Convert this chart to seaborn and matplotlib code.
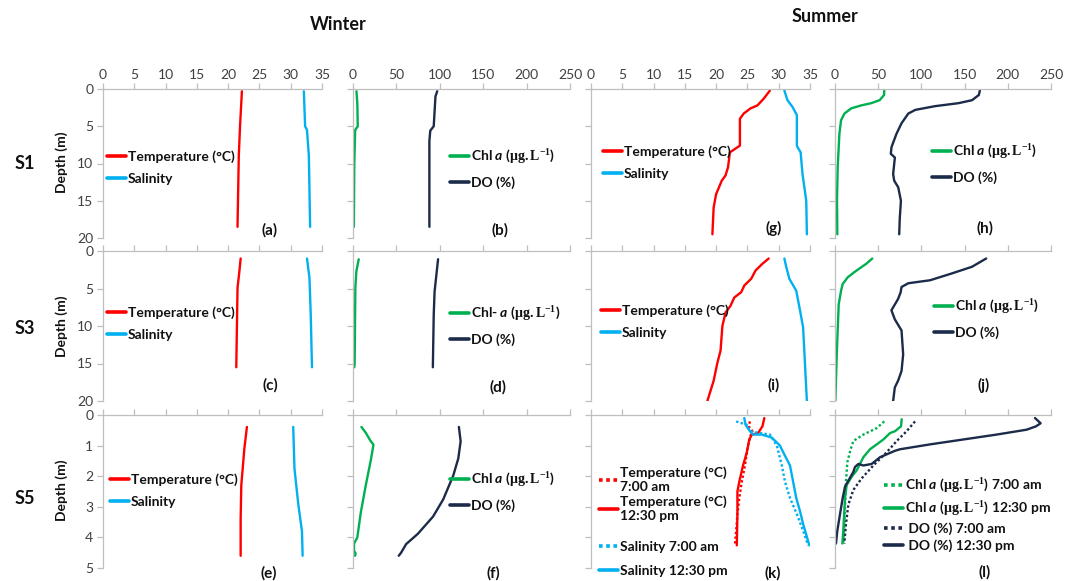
import matplotlib
matplotlib.use('Agg')
import matplotlib.pyplot as plt
import seaborn as sns

# ---- Winter S1 (a, b)
w1_temp_d = [0.3, 5, 9, 18.5]
w1_temp = [22.2, 21.9, 21.7, 21.5]
w1_sal_d = [0.3, 5, 5.5, 9, 18.5]
w1_sal = [32.1, 32.3, 32.6, 32.9, 33.1]
w1_chl_d = [0.3, 2, 5, 5.5, 10, 18.5]
w1_chl = [4, 5, 5.5, 2.5, 1.5, 1]
w1_do_d = [0.3, 1, 5, 5.6, 7, 18.5]
w1_do = [97, 95, 93, 89, 88, 88]

# ---- Summer S1 (g, h)
s1_temp_d = [0.2, 1.3, 2.2, 2.6, 3.3, 4.0, 7.6, 8.5, 10.5, 11.6, 12.3, 14.1, 15.9, 19.5]
s1_temp = [28.6, 27.6, 26.6, 25.5, 24.4, 23.8, 23.8, 22.2, 21.9, 21.5, 20.9, 20.0, 19.6, 19.4]
s1_sal_d = [0.2, 1.5, 2.4, 3.5, 7.6, 7.8, 8.5, 11.4, 15.0, 19.5]
s1_sal = [30.9, 31.4, 32.2, 32.9, 32.9, 33.0, 33.5, 33.8, 34.4, 34.5]
s1_chl_d = [0.2, 0.8, 1.5, 1.9, 2.2, 2.6, 3.3, 4.2, 6.0, 10.5, 15.0, 19.5]
s1_chl = [57, 56.8, 51.7, 42, 30.4, 18.7, 10.9, 7.0, 5.1, 3.1, 2.3, 2.7]
s1_do_d = [0.2, 0.8, 1.5, 1.9, 2.3, 2.8, 3.3, 4.6, 6.0, 7.8, 8.7, 9.2, 11.4, 12.3, 13.2, 15.0, 17.3, 19.5]
s1_do = [167.7, 166.5, 158.7, 143, 116, 93, 84.8, 77, 71.2, 65.4, 64.6, 69.3, 67.3, 68.5, 73.2, 76.3, 75, 74.3]

# ---- Winter S3 (c, d)
w3_temp_d = [1.0, 2.7, 4.9, 15.5]
w3_temp = [22.0, 21.8, 21.5, 21.3]
w3_sal_d = [1.0, 3.6, 8.5, 15.5]
w3_sal = [32.6, 33.0, 33.2, 33.4]
w3_chl_d = [1.1, 2.7, 4.9, 15.0, 15.5]
w3_chl = [6.6, 3.9, 2.7, 1.9, 1.5]
w3_do_d = [1.1, 5.4, 8.5, 15.5]
w3_do = [98, 94, 93, 92]

# ---- Summer S3 (i, j)
s3_temp_d = [1.0, 1.7, 2.6, 3.7, 4.6, 5.5, 6.2, 7.3, 8.2, 10.0, 13.3, 14.9, 17.3, 20.0]
s3_temp = [28.4, 27.4, 26.3, 25.6, 24.5, 24.0, 22.9, 22.3, 21.5, 21.0, 20.7, 20.2, 19.6, 18.6]
s3_sal_d = [1.0, 2.1, 3.7, 5.3, 7.9, 10.2, 15.1, 20.0]
s3_sal = [30.9, 31.2, 31.7, 32.8, 33.4, 33.9, 34.2, 34.5]
s3_chl_d = [1.0, 1.7, 2.8, 3.5, 4.4, 5.3, 7.1, 12.9, 20.0]
s3_chl = [43.2, 36.2, 22.6, 14.8, 8.9, 7.0, 4.3, 2.3, 0.4]
s3_do_d = [1.0, 2.1, 3.0, 3.9, 4.3, 4.8, 5.5, 6.4, 7.9, 9.1, 10.6, 13.8, 16.0, 17.3, 18.2, 20.0]
s3_do = [175, 158.6, 135, 110, 84.8, 77, 76, 73, 65.3, 69.2, 77, 78.9, 77, 73, 69.2, 67.3]

# ---- Winter S5 (e, f)
w5_temp_d = [0.39, 1.08, 2.3, 3.4, 4.6]
w5_temp = [23.0, 22.6, 22.1, 22.0, 22.0]
w5_sal_d = [0.39, 1.75, 2.9, 3.8, 4.6]
w5_sal = [30.4, 30.6, 31.2, 31.8, 31.9]
w5_chl_d = [0.39, 0.58, 0.86, 0.97, 1.48, 2.3, 3.2, 4.0, 4.2, 4.44, 4.53, 4.6]
w5_chl = [9.7, 14.7, 20.5, 23.6, 20.5, 14.7, 8.9, 5.0, 1.2, 1.2, 3.1, 2.3]
w5_do_d = [0.39, 0.86, 1.42, 1.98, 2.76, 3.32, 3.88, 4.22, 4.5, 4.6]
w5_do = [122, 124, 121.3, 115.5, 103.9, 92.2, 74.8, 61.2, 55.4, 52.7]

# ---- Summer S5 (k, l), two sampling times
s5_temp_am_d = [0.21, 0.37, 0.53, 0.67, 1.0, 1.65, 2.18, 2.71, 3.24, 3.78, 4.26]
s5_temp_am = [25.4, 25.2, 25.8, 25.5, 25.1, 24.6, 24.1, 23.7, 23.4, 23.2, 23.0]
s5_temp_pm_d = [0.1, 0.37, 0.59, 0.64, 0.8, 1.22, 1.65, 2.18, 2.5, 3.24, 4.26]
s5_temp_pm = [27.7, 27.4, 26.7, 25.7, 25.3, 24.9, 24.3, 23.7, 23.4, 23.4, 23.3]
s5_sal_am_d = [0.21, 0.27, 0.32, 0.53, 0.59, 0.64, 1.0, 1.65, 2.18, 2.71, 3.24, 3.78, 4.26]
s5_sal_am = [23.2, 24.1, 24.9, 25.4, 27.0, 28.6, 29.7, 30.5, 31.0, 31.8, 32.9, 33.9, 34.7]
s5_sal_pm_d = [0.1, 0.32, 0.53, 0.64, 0.64, 0.74, 1.0, 1.33, 1.65, 2.07, 2.71, 3.14, 3.56, 4.26]
s5_sal_pm = [24.5, 24.7, 25.4, 25.9, 27.3, 28.9, 30.2, 31.0, 31.8, 32.2, 32.8, 33.4, 33.9, 34.9]
s5_chl_am_d = [0.21, 0.43, 0.64, 0.85, 1.12, 1.54, 2.18, 3.03, 3.78, 4.2]
s5_chl_am = [57, 48.2, 32.8, 21.2, 18.1, 14.3, 12.7, 11.6, 10.4, 9.6]
s5_chl_pm_d = [0.14, 0.37, 0.53, 0.59, 0.8, 1.12, 1.38, 1.81, 2.02, 2.29, 2.71, 3.78, 4.2]
s5_chl_pm = [77.2, 76.4, 69.4, 63.7, 56, 40.5, 32.8, 25.1, 19.3, 13.5, 11.6, 9.6, 8.5]
s5_do_am_d = [0.21, 0.53, 0.85, 1.22, 1.65, 2.07, 2.45, 2.93, 3.56, 4.2]
s5_do_am = [92.6, 82.9, 71.4, 59.8, 44.4, 30.9, 21.2, 15.4, 12.7, 10.8]
s5_do_pm_d = [0.1, 0.27, 0.37, 0.48, 0.64, 0.8, 0.96, 1.12, 1.17, 1.38, 1.6, 1.65, 1.6, 1.7, 1.86, 2.34, 2.71, 3.24, 3.78, 4.2]
s5_do_pm = [231.5, 238, 232.7, 221.8, 187, 148.5, 110, 75.2, 69.4, 52.1, 42.4, 32.8, 27, 23.1, 21.2, 11.6, 8.9, 5.8, 2.7, 1.2]

RED = '#FF0000'
BLUE = '#00B0F0'
GREEN = '#00B050'
NAVY = '#1C2B4A'
GREY = '#BFBFBF'
DOT = (0, (1, 1))

CHL = r'Chl $\mathit{a}$ ($\mathbf{µg.L^{-1}}$)'

sns.set_theme(style='white')
plt.rcParams['font.family'] = ['Lato', 'DejaVu Sans']
plt.rcParams['mathtext.fontset'] = 'custom'
plt.rcParams['mathtext.rm'] = 'Liberation Serif'
plt.rcParams['mathtext.bf'] = 'Liberation Serif:bold'
plt.rcParams['mathtext.it'] = 'Lato:italic:bold'

W, H = 1065, 581
fig = plt.figure(figsize=(W / 100, H / 100), dpi=100)

col_px = [(103, 322), (353, 570), (591, 810), (835, 1051)]
row_px = [(89, 238), (251, 401), (415, 568)]
xmax = [35, 250, 35, 250]
depth_max = [20, 20, 5]


def make_ax(r, c):
    x0, x1 = col_px[c]
    y0, y1 = row_px[r]
    ax = fig.add_axes([x0 / W, 1 - y1 / H, (x1 - x0) / W, (y1 - y0) / H])
    return ax


def style_ax(ax, r, c):
    ax.set_xlim(0, xmax[c])
    ax.set_ylim(depth_max[r], 0)
    if xmax[c] == 35:
        ax.set_xticks(range(0, 36, 5))
    else:
        ax.set_xticks(range(0, 251, 50))
    ax.set_yticks(range(0, depth_max[r] + 1, 5 if depth_max[r] == 20 else 1))
    ax.xaxis.tick_top()
    for s in ['right', 'bottom']:
        ax.spines[s].set_visible(False)
    for s in ['top', 'left']:
        ax.spines[s].set_color(GREY)
        ax.spines[s].set_linewidth(0.9)
    ax.tick_params(axis='x', top=True, bottom=False, labeltop=(r == 0), labelbottom=False,
                   direction='out', length=4, width=0.9, color=GREY, labelsize=10,
                   labelcolor='#404040', pad=2)
    ax.tick_params(axis='y', left=True, labelleft=(c == 0), direction='out', length=4,
                   width=0.9, color=GREY, labelsize=10, labelcolor='#404040', pad=3)
    ax.set_xlabel('')
    ax.set_ylabel('')
    ax.grid(False)


def draw(ax, vals, depth, color, label, ls='-'):
    sns.lineplot(x=vals, y=depth, sort=False, estimator=None, color=color, lw=1.7,
                 linestyle=ls, label=label, legend=False, ax=ax)


def add_legend(ax, x, yc, handles=None, spacing=0.7):
    leg = ax.legend(handles=handles, loc='center left', bbox_to_anchor=(x / W, 1 - yc / H),
                    bbox_transform=fig.transFigure, frameon=False, handlelength=1.4,
                    handletextpad=0.1, borderpad=0, borderaxespad=0, labelspacing=spacing,
                    prop=dict(family='Lato', weight='bold', size=10))
    for h in leg.get_lines():
        h.set_linewidth(2.6)
    for t in leg.get_texts():
        t.set_color('#111111')
    return leg


panels = {}
for r in range(3):
    for c in range(4):
        panels[(r, c)] = make_ax(r, c)

# temperature / salinity panels
ts_sets = [
    (0, 0, w1_temp, w1_temp_d, w1_sal, w1_sal_d, 107, 168),
    (1, 0, w3_temp, w3_temp_d, w3_sal, w3_sal_d, 107, 324),
    (2, 0, w5_temp, w5_temp_d, w5_sal, w5_sal_d, 110, 491),
    (0, 2, s1_temp, s1_temp_d, s1_sal, s1_sal_d, 603, 163),
    (1, 2, s3_temp, s3_temp_d, s3_sal, s3_sal_d, 601, 322),
]
for r, c, t, td, s, sd, lx, ly in ts_sets:
    ax = panels[(r, c)]
    draw(ax, t, td, RED, 'Temperature (°C)')
    draw(ax, s, sd, BLUE, 'Salinity')
    style_ax(ax, r, c)
    add_legend(ax, lx, ly)

# chl / DO panels
cd_sets = [
    (0, 1, w1_chl, w1_chl_d, w1_do, w1_do_d, 450, 168, CHL),
    (1, 1, w3_chl, w3_chl_d, w3_do, w3_do_d, 450, 325, r'Chl- $\mathit{a}$ ($\mathbf{µg.L^{-1}}$)'),
    (2, 1, w5_chl, w5_chl_d, w5_do, w5_do_d, 450, 491, CHL),
    (0, 3, s1_chl, s1_chl_d, s1_do, s1_do_d, 932, 163, CHL),
    (1, 3, s3_chl, s3_chl_d, s3_do, s3_do_d, 934, 318, CHL),
]
for r, c, ch, chd, do, dod, lx, ly, lab in cd_sets:
    ax = panels[(r, c)]
    draw(ax, ch, chd, GREEN, lab)
    draw(ax, do, dod, NAVY, 'DO (%)')
    style_ax(ax, r, c)
    add_legend(ax, lx, ly)

# summer S5 temperature / salinity (k)
ax = panels[(2, 2)]
draw(ax, s5_temp_am, s5_temp_am_d, RED, 'Temperature (°C)\n7:00 am', DOT)
draw(ax, s5_temp_pm, s5_temp_pm_d, RED, 'Temperature (°C)\n12:30 pm')
draw(ax, s5_sal_am, s5_sal_am_d, BLUE, 'Salinity 7:00 am', DOT)
draw(ax, s5_sal_pm, s5_sal_pm_d, BLUE, 'Salinity 12:30 pm')
style_ax(ax, 2, 2)
lines = ax.get_lines()
leg1 = add_legend(ax, 599, 494, handles=lines[:2], spacing=0.15)
ax.add_artist(leg1)
add_legend(ax, 599, 559, handles=lines[2:], spacing=0.9)

# summer S5 chl / DO (l)
ax = panels[(2, 3)]
draw(ax, s5_chl_am, s5_chl_am_d, GREEN, CHL + ' 7:00 am', DOT)
draw(ax, s5_chl_pm, s5_chl_pm_d, GREEN, CHL + ' 12:30 pm')
draw(ax, s5_do_am, s5_do_am_d, NAVY, ' DO (%) 7:00 am', DOT)
draw(ax, s5_do_pm, s5_do_pm_d, NAVY, ' DO (%) 12:30 pm')
style_ax(ax, 2, 3)
add_legend(ax, 884, 514, spacing=0.3)

# panel letters
letters = [
    ('(a)', 270, 230), ('(b)', 500, 230), ('(g)', 774, 228), ('(h)', 985, 228),
    ('(c)', 270, 385), ('(d)', 498, 387), ('(i)', 774, 385), ('(j)', 984, 385),
    ('(e)', 269, 573), ('(f)', 493, 573), ('(k)', 773, 573), ('(l)', 985, 572),
]
for txt, x, y in letters:
    fig.text(x / W, 1 - y / H, txt, ha='center', va='center', fontsize=11,
             fontweight='bold', color='#111111')

# season headers, station labels, depth labels
fig.text(338 / W, 1 - 24 / H, 'Winter', ha='center', va='center', fontsize=13,
         fontweight='bold', color='#111111')
fig.text(825 / W, 1 - 16 / H, 'Summer', ha='center', va='center', fontsize=13,
         fontweight='bold', color='#111111')
for lab, y in [('S1', 164), ('S3', 328), ('S5', 498)]:
    fig.text(25 / W, 1 - y / H, lab, ha='center', va='center', fontsize=13,
             fontweight='bold', color='#111111')
for y in [162, 326, 490]:
    fig.text(62 / W, 1 - y / H, 'Depth (m)', ha='center', va='center', rotation=90,
             fontsize=10, fontweight='bold', color='#111111')

fig.savefig('out.png', dpi=100, facecolor='white')
